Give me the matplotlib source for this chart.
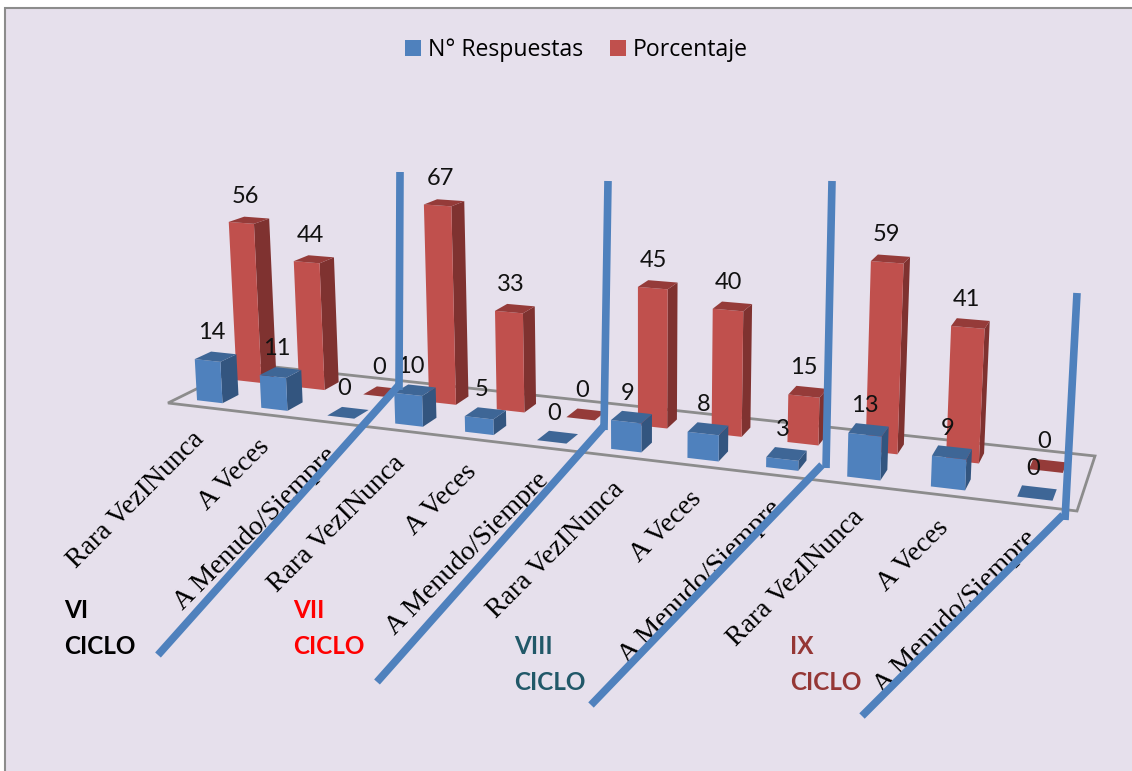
import numpy as np
import matplotlib
matplotlib.use("Agg")
import matplotlib.pyplot as plt
from matplotlib.patches import Polygon, Patch, Rectangle
from matplotlib.transforms import IdentityTransform

categorias = ["Rara VezINunca", "A Veces", "A Menudo/Siempre"] * 4
respuestas = [14, 11, 0, 10, 5, 0, 9, 8, 3, 13, 9, 0]
porcentaje = [56, 44, 0, 67, 33, 0, 45, 40, 15, 59, 41, 0]
ciclos = ["VI", "VII", "VIII", "IX"]
ciclo_colores = ["#000000", "#FF0000", "#215868", "#953735"]
ciclo_pos = [(64, 611), (293, 611), (514, 647), (790, 647)]

AZUL = ("#4F81BD", "#3E6696", "#33557F")
ROJO = ("#C0504D", "#953B39", "#7F3230")

# esquinas del piso 3D, en pixeles
piso = np.array([(168, 403), (1077, 511), (1095, 456), (247, 364)], float)
esq_uv = np.array([(0, 0), (12, 0), (12, 1), (0, 1)], float)


def homografia(src, dst):
    A = []
    for (u, v), (x, y) in zip(src, dst):
        A.append([u, v, 1, 0, 0, 0, -u * x, -v * x, -x])
        A.append([0, 0, 0, u, v, 1, -u * y, -v * y, -y])
    return np.linalg.svd(np.array(A))[2][-1].reshape(3, 3)


H = homografia(esq_uv, piso)


def proy(u, v, z=0):
    x, y, w = H @ np.array([u, v, 1.0])
    x, y = x / w, y / w
    h = z * (2.82 + 0.0055 * (y - 379))
    return x + (x - 640) * h / 8000, y - h


def barra(ax, i, val, v0, v1, col):
    u0, u1 = i + 0.3, i + 0.7
    cara = [proy(u0, v0), proy(u1, v0), proy(u1, v0, val), proy(u0, v0, val)]
    lado = [proy(u1, v0), proy(u1, v1), proy(u1, v1, val), proy(u1, v0, val)]
    tapa = [proy(u0, v0, val), proy(u1, v0, val), proy(u1, v1, val), proy(u0, v1, val)]
    ax.add_patch(Polygon(lado, fc=col[2], ec="none", zorder=3))
    ax.add_patch(Polygon(cara, fc=col[0], ec="none", zorder=3))
    ax.add_patch(Polygon(tapa, fc=col[1], ec="none", zorder=3))
    x, y = proy(i + 0.5, (v0 + v1) / 2, val)
    ax.text(x - 4, y - 24, str(val), ha="center", va="center", fontsize=17,
            family="Lato", color="#111111", zorder=5)


fig = plt.figure(figsize=(11.32, 7.71), dpi=100, facecolor="white")
ax = fig.add_axes([0, 0, 1, 1])
ax.set_xlim(0, 1132)
ax.set_ylim(771, 0)
ax.axis("off")
ax.add_patch(Rectangle((5, 8), 1140, 780, fc="#E6E0EC", ec="#8C8C8C", lw=1.5, zorder=0))

ax.add_patch(Polygon(piso, fc="none", ec="#8C8C8C", lw=2, zorder=1))

for i in range(12):
    barra(ax, i, porcentaje[i], 0.62, 0.82, ROJO)
for i in range(12):
    barra(ax, i, respuestas[i], 0.12, 0.32, AZUL)

for i, cat in enumerate(categorias):
    x, y = proy(i + 0.5, 0)
    ax.text(x - 8, y + 20, cat, rotation=45, rotation_mode="anchor", ha="right", va="top",
            fontsize=20, family="Liberation Serif", color="black", zorder=4)

for nom, col, (x, y) in zip(ciclos, ciclo_colores, ciclo_pos):
    ax.text(x, y, nom, color=col, fontsize=17.5, family="Lato", weight="bold", va="center", zorder=4)
    ax.text(x, y + 36, "CICLO", color=col, fontsize=17.5, family="Lato", weight="bold", va="center", zorder=4)

# lineas separadoras de ciclos: vertical y diagonal por separado
separadores = [
    [(400, 172), (399, 390), (399, 385), (158, 655)],
    [(608, 181), (604, 430), (604, 426), (377, 682)],
    [(832, 181), (826, 468), (822, 465), (591, 705)],
    [(1077, 293), (1065, 520), (1063, 515), (862, 716)],
]
for sep in separadores:
    s = np.array(sep)
    ax.plot(s[:2, 0], s[:2, 1], color="#4F81BD", lw=5.5, solid_capstyle="butt", zorder=6)
    ax.plot(s[2:, 0], s[2:, 1], color="#4F81BD", lw=5.5, solid_capstyle="butt", zorder=6)

ax.legend(handles=[Patch(fc=AZUL[0], label="N° Respuestas"), Patch(fc=ROJO[0], label="Porcentaje")],
          loc="center", bbox_to_anchor=(576.5, 771 - 50), bbox_transform=IdentityTransform(),
          ncol=2, frameon=False, prop={"family": "Open Sans", "size": 16.6},
          handlelength=0.66, handleheight=0.66, handletextpad=0.3, columnspacing=1.2)

fig.savefig("out.png", dpi=100)
